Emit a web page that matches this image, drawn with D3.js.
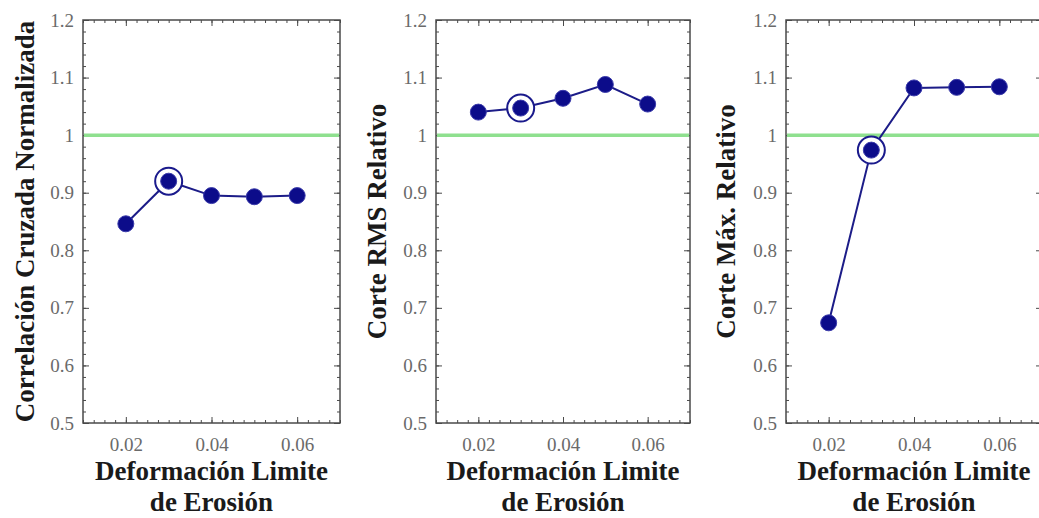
<!DOCTYPE html>
<html><head><meta charset="utf-8">
<script src="https://cdn.jsdelivr.net/npm/d3@7"></script>
<style>body{margin:0;background:#fff}svg{display:block}</style>
</head><body>
<svg id="c" width="1039" height="518"></svg>
<script>
const xValues = [0.02, 0.03, 0.04, 0.05, 0.06];
const seriesCorrelacion = [0.846, 0.920, 0.895, 0.893, 0.895];
const seriesRMS = [1.040, 1.047, 1.064, 1.088, 1.054];
const seriesMax = [0.674, 0.974, 1.082, 1.083, 1.084];
const yLabels = ["Correlación Cruzada Normalizada", "Corte RMS Relativo", "Corte Máx. Relativo"];
const xLabelLines = ["Deformación Limite", "de Erosión"];
const xTicks = [0.02, 0.04, 0.06];
const yTicks = [0.5, 0.6, 0.7, 0.8, 0.9, 1, 1.1, 1.2];
const refValue = 1;
const highlightX = 0.03;

const panels = [
  {left: 83, right: 340, data: seriesCorrelacion, label: yLabels[0], labelX: 34},
  {left: 436, right: 690, data: seriesRMS, label: yLabels[1], labelX: 386},
  {left: 786, right: 1042, data: seriesMax, label: yLabels[2], labelX: 735}
];
const yTop = 20, yBottom = 423;
const svg = d3.select("#c");
const serif = "'Liberation Serif','Times New Roman',serif";

panels.forEach(p => {
  const x = d3.scaleLinear().domain([0.01, 0.07]).range([p.left, p.right]);
  const y = d3.scaleLinear().domain([0.5, 1.2]).range([yBottom, yTop]);
  const g = svg.append("g");
  const minorX = d3.range(0.01, 0.0701, 0.0025);
  const minorY = d3.range(0.5, 1.2001, 0.02);
  const frameCol = "#4a4a4a";
  const addAxis = (axis, tr) => {
    const a = g.append("g").attr("transform", tr).call(axis);
    a.select(".domain").remove();
    a.selectAll("line").attr("stroke", frameCol).attr("stroke-width", 1);
    a.selectAll("text").remove();
    return a;
  };
  addAxis(d3.axisBottom(x).tickValues(minorX).tickSize(-3), `translate(0,${yBottom})`);
  addAxis(d3.axisTop(x).tickValues(minorX).tickSize(-3), `translate(0,${yTop})`);
  addAxis(d3.axisLeft(y).tickValues(minorY).tickSize(-3), `translate(${p.left},0)`);
  addAxis(d3.axisRight(y).tickValues(minorY).tickSize(-3), `translate(${p.right},0)`);
  addAxis(d3.axisBottom(x).tickValues(xTicks).tickSize(-6), `translate(0,${yBottom})`);
  addAxis(d3.axisTop(x).tickValues(xTicks).tickSize(-6), `translate(0,${yTop})`);
  addAxis(d3.axisRight(y).tickValues(yTicks).tickSize(-6), `translate(${p.right},0)`);
  const xa = g.append("g").attr("transform", `translate(0,${yBottom})`)
    .call(d3.axisBottom(x).tickValues(xTicks).tickSize(0).tickPadding(15).tickFormat(d3.format(".2f")));
  xa.select(".domain").remove();
  xa.selectAll("text").attr("font-family", serif).attr("font-size", 19).attr("fill", "#6a6a6a");
  const ya = g.append("g").attr("transform", `translate(${p.left},0)`)
    .call(d3.axisLeft(y).tickValues(yTicks).tickSize(-6).tickPadding(9).tickFormat(d => String(+d.toFixed(1))));
  ya.select(".domain").remove();
  ya.selectAll("line").attr("stroke", frameCol);
  ya.selectAll("text").attr("font-family", serif).attr("font-size", 19).attr("fill", "#6a6a6a");
  g.append("rect").attr("x", p.left).attr("y", yTop).attr("width", p.right - p.left).attr("height", yBottom - yTop)
    .attr("fill", "none").attr("stroke", frameCol).attr("stroke-width", 1.5);
  g.append("line").attr("x1", p.left + 1).attr("x2", p.right - 1).attr("y1", y(refValue)).attr("y2", y(refValue))
    .attr("stroke", "#8fe08f").attr("stroke-width", 3.5);
  const pts = xValues.map((v, i) => [v, p.data[i]]);
  g.append("path").datum(pts)
    .attr("d", d3.line().x(d => x(d[0])).y(d => y(d[1])))
    .attr("fill", "none").attr("stroke", "#1c1c88").attr("stroke-width", 2);
  const hi = pts.find(d => d[0] === highlightX);
  g.append("circle").attr("cx", x(hi[0])).attr("cy", y(hi[1])).attr("r", 13.5)
    .attr("fill", "#fff").attr("stroke", "#1a1a8c").attr("stroke-width", 2);
  g.selectAll(".dot").data(pts).enter().append("circle")
    .attr("cx", d => x(d[0])).attr("cy", d => y(d[1])).attr("r", 8)
    .attr("fill", "#0c0c8a").attr("stroke", "#3a3aaa").attr("stroke-width", 1);
  g.append("text").attr("transform", `translate(${p.labelX},${(yTop + yBottom) / 2}) rotate(-90)`)
    .attr("text-anchor", "middle").attr("font-family", serif).attr("font-weight", "bold")
    .attr("font-size", 27).attr("fill", "#1a1a1a").text(p.label);
  xLabelLines.forEach((t, i) => {
    g.append("text").attr("x", (p.left + p.right) / 2).attr("y", 480 + i * 31)
      .attr("text-anchor", "middle").attr("font-family", serif).attr("font-weight", "bold")
      .attr("font-size", 27).attr("fill", "#1a1a1a").text(t);
  });
});
</script>
</body></html>
